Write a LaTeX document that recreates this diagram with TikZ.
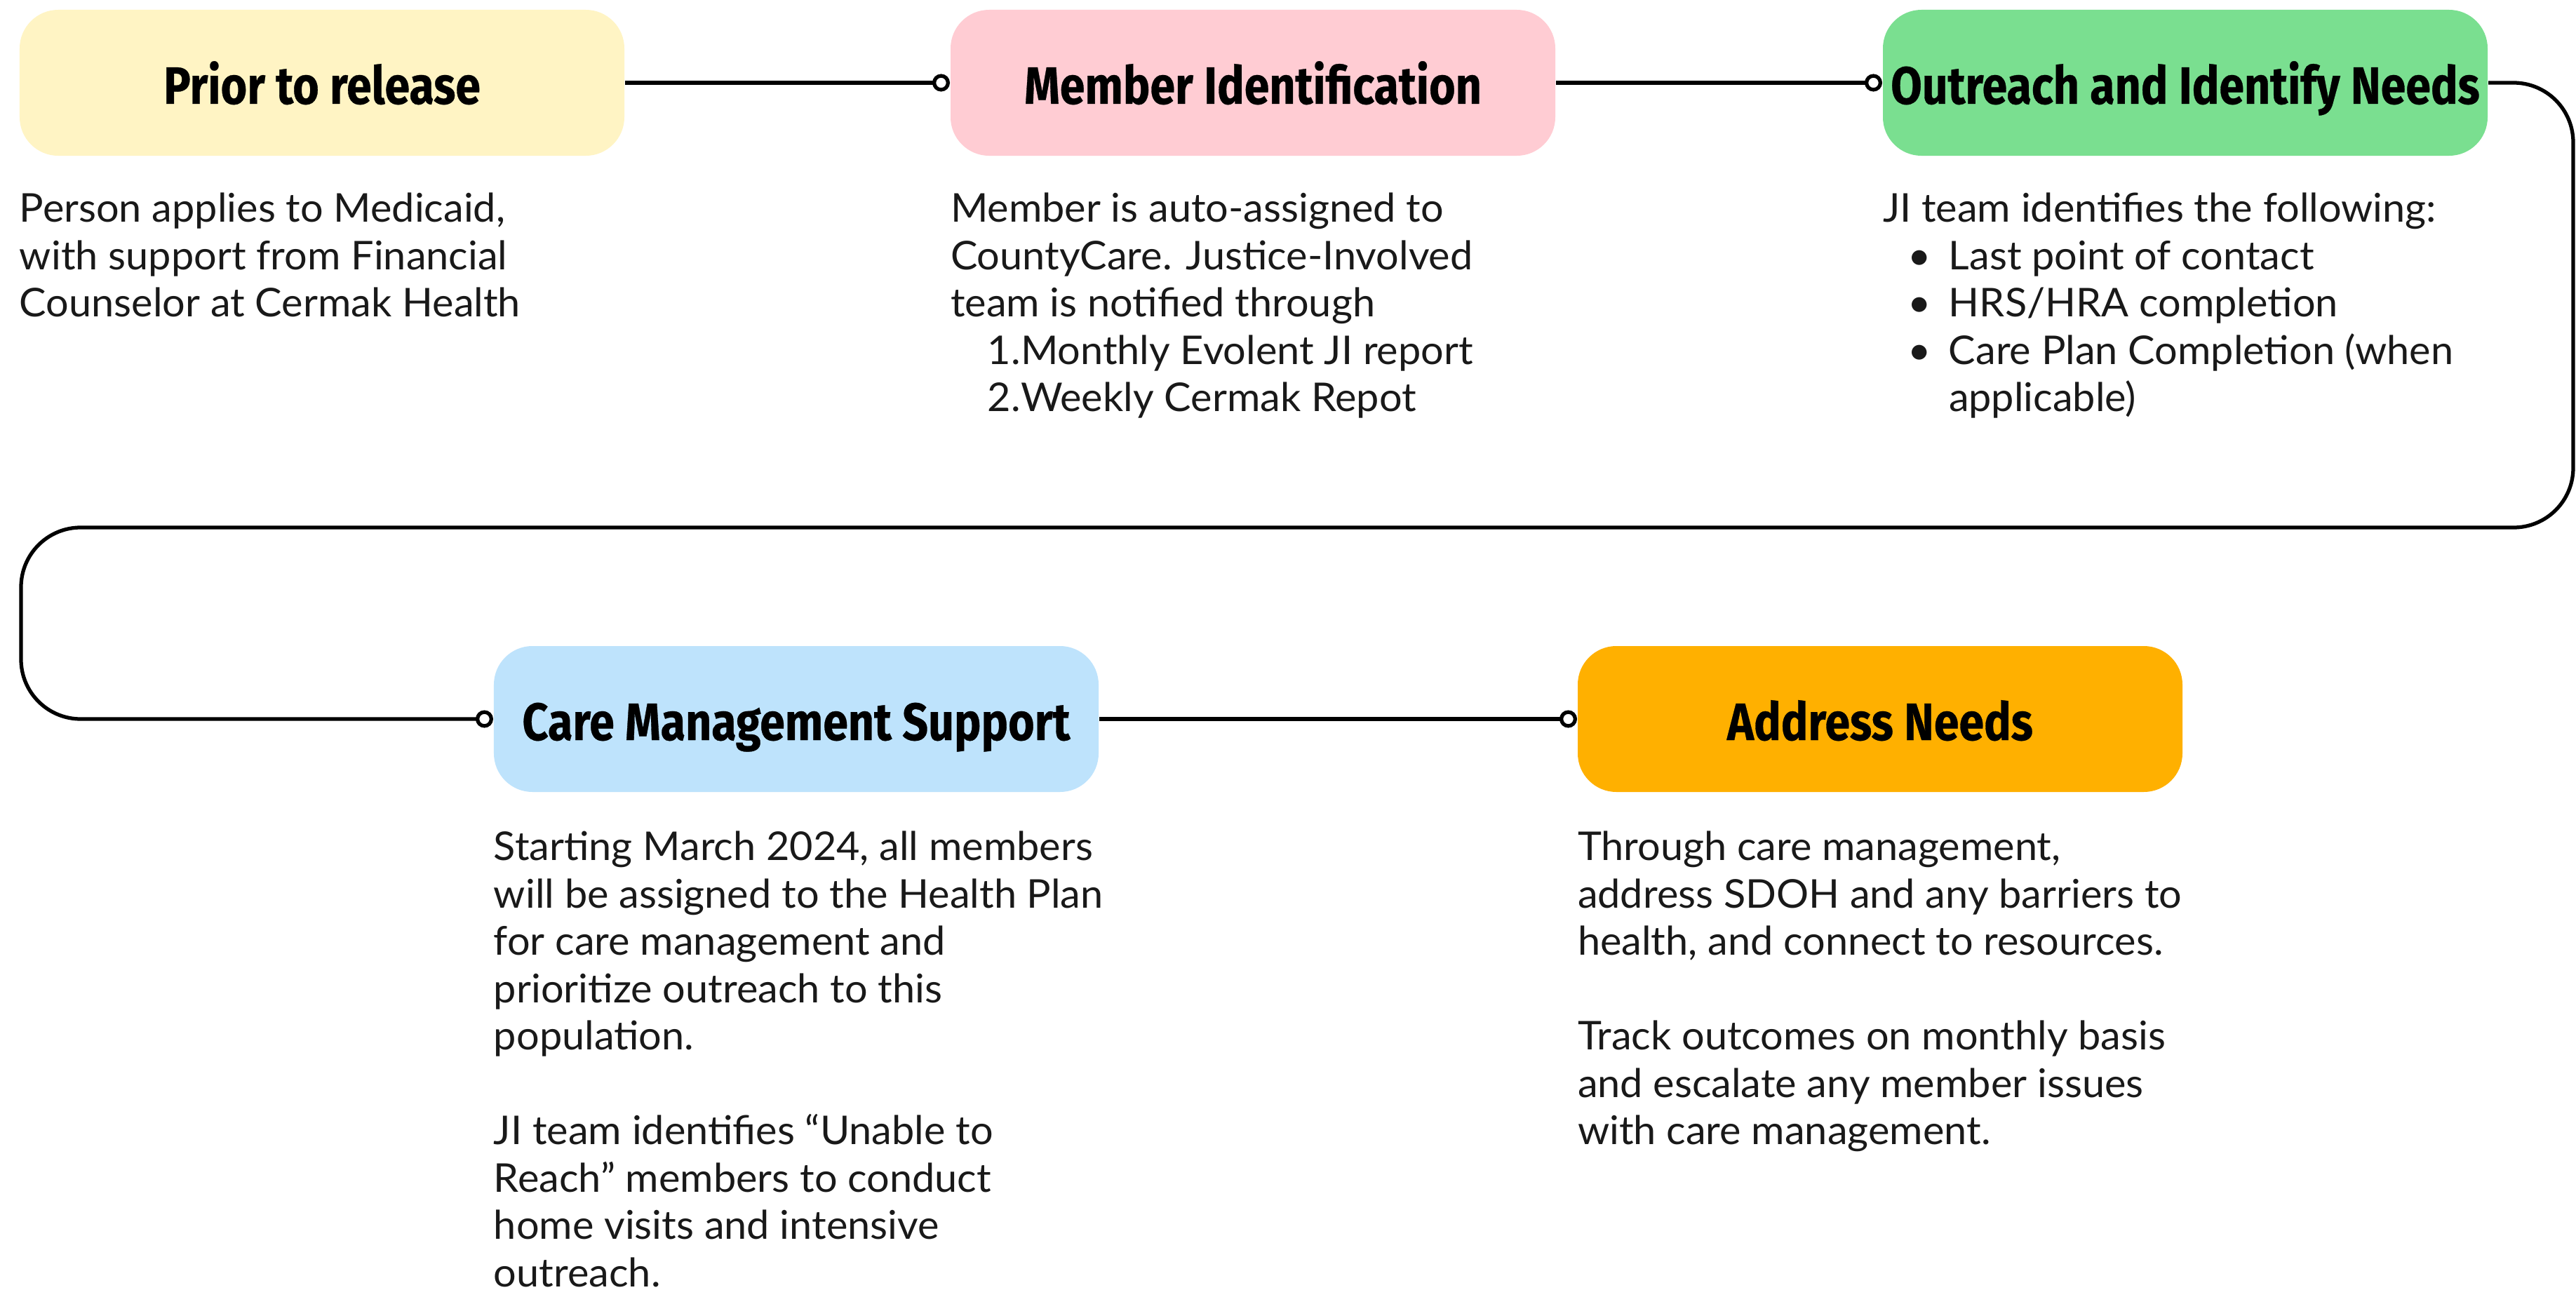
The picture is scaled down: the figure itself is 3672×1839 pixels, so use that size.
\documentclass[tikz,border=0pt]{standalone}
\usepackage{fontspec}
\setmainfont[FakeStretch=1.02]{Lato}
\newfontfamily\headfont[FakeStretch=0.86,FakeBold=0.4]{Fira Sans}
\usetikzlibrary{arrows.meta}

\definecolor{cYellow}{HTML}{FFF4C4}
\definecolor{cPink}{HTML}{FFCCD3}
\definecolor{cGreen}{HTML}{7ADF90}
\definecolor{cBlue}{HTML}{BEE3FC}
\definecolor{cOrange}{HTML}{FFB000}

\begin{document}
\begin{tikzpicture}[x=0.2pt,y=-0.2pt,
  stage/.style={rounded corners=11pt, minimum width=172.4pt, minimum height=41.6pt,
    inner sep=0pt, text height=14pt, text depth=2pt, text=black,
    font=\headfont\bfseries\fontsize{15}{18}\selectfont},
  desc/.style={anchor=north west, inner sep=0pt, align=left, text=black!90,
    font=\fontsize{11.3}{13.5}\selectfont},
  conn/.style={line width=1.05pt, -{Circle[open,length=5pt,width=5pt]}},
]
\useasboundingbox (0,0) rectangle (3672,1839);
\fill[white] (0,0) rectangle (3672,1839);

% stages
\node[stage, fill=cYellow] (prior)    at (459,118)  {Prior to release};
\node[stage, fill=cPink]   (member)   at (1786,118) {Member Identification};
\node[stage, fill=cGreen]  (outreach) at (3115,118) {Outreach and Identify Needs};
\node[stage, fill=cBlue]   (care)     at (1135,1025) {Care Management Support};
\node[stage, fill=cOrange] (address)  at (2680,1025) {Address Needs};

% descriptions
\node[desc] (priorTxt) at ([yshift=-10.2pt]prior.south west)
  {Person applies to Medicaid,\\
   with support from Financial\\
   Counselor at Cermak Health};

\node[desc] (memberTxt) at ([yshift=-10.2pt]member.south west)
  {Member is auto-assigned to\\
   CountyCare. Justice-Involved\\
   team is notified through\\
   \makebox[20pt][r]{1.}Monthly Evolent JI report\\
   \makebox[20pt][r]{2.}Weekly Cermak Repot};

\node[desc] (outreachTxt) at ([yshift=-10.2pt]outreach.south west)
  {JI team identifies the following:\\
   \makebox[18.8pt][r]{•\hspace{5pt}}Last point of contact\\
   \makebox[18.8pt][r]{•\hspace{5pt}}HRS/HRA completion\\
   \makebox[18.8pt][r]{•\hspace{5pt}}Care Plan Completion (when\\
   \hspace*{18.8pt}applicable)};

\node[desc] (careTxt) at ([yshift=-10.8pt]care.south west)
  {Starting March 2024, all members\\
   will be assigned to the Health Plan\\
   for care management and\\
   prioritize outreach to this\\
   population.\\[13.5pt]
   JI team identifies “Unable to\\
   Reach” members to conduct\\
   home visits and intensive\\
   outreach.};

\node[desc] (addressTxt) at ([yshift=-10.8pt]address.south west)
  {Through care management,\\
   address SDOH and any barriers to\\
   health, and connect to resources.\\[13.5pt]
   Track outcomes on monthly basis\\
   and escalate any member issues\\
   with care management.};

% connectors
\coordinate (bendR) at (3668,752);
\coordinate (bendL) at (30,752);

\draw[conn] (prior.east) -- (member.west);
\draw[conn] (member.east) -- (outreach.west);
\draw[conn, rounded corners=17pt] (outreach.east) -| (bendR) -- (bendL) |- (care.west);
\draw[conn] (care.east) -- (address.west);
\end{tikzpicture}
\end{document}
